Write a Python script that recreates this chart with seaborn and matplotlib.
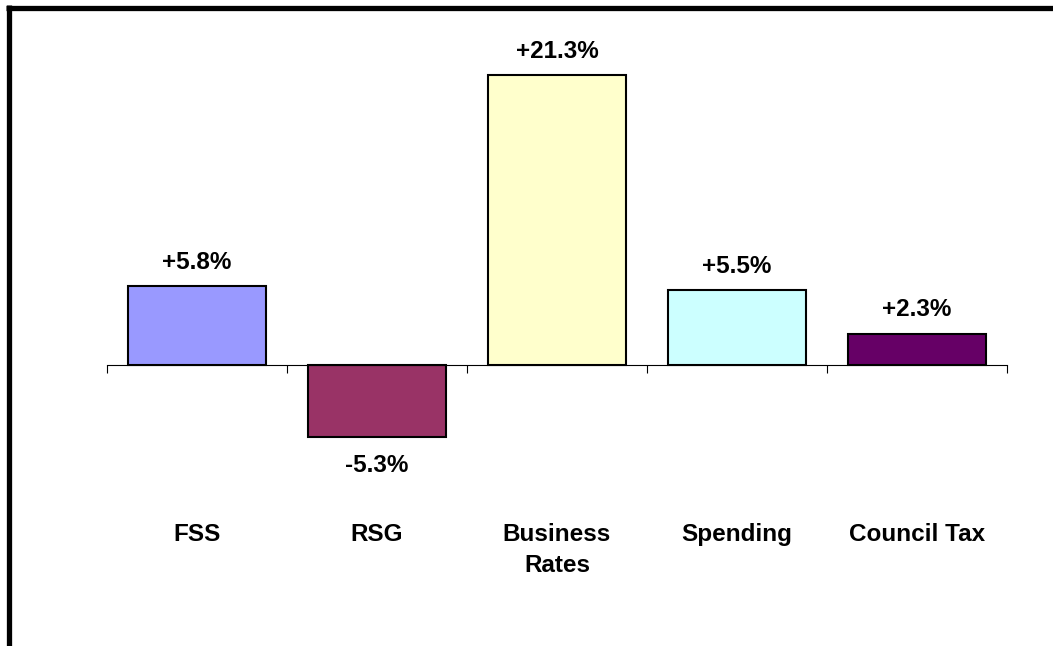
import matplotlib
matplotlib.use("Agg")
import matplotlib.pyplot as plt
from matplotlib.lines import Line2D
import seaborn as sns
import pandas as pd
import numpy as np

categories = ["FSS", "RSG", "Business\nRates", "Spending", "Council Tax"]
changes = [5.8, -5.3, 21.3, 5.5, 2.3]
value_labels = ["+5.8%", "-5.3%", "+21.3%", "+5.5%", "+2.3%"]
colors = ["#9999FF", "#993366", "#FFFFCC", "#CCFFFF", "#660066"]

sns.set_theme(style="white")
plt.rcParams["font.family"] = ["Liberation Sans", "DejaVu Sans"]

W, H = 1053, 646
fig = plt.figure(figsize=(W / 100, H / 100), dpi=100)
fig.patch.set_facecolor("white")

# plot area in pixels: x 107..1007, y 20..620 (from top)
ax = fig.add_axes([107 / W, (H - 620) / H, 900 / W, 600 / H])
ax.set_facecolor("white")

df = pd.DataFrame({"category": categories, "change": changes})
sns.barplot(data=df, x="category", y="change", hue="category",
            palette=colors, order=categories, hue_order=categories,
            width=0.77, edgecolor="black", linewidth=1.5,
            legend=False, ax=ax, saturation=1)

ax.set_xlim(-0.5, 4.5)
ax.set_ylim(-18.75, 25.37)

for s in ["left", "right", "top"]:
    ax.spines[s].set_visible(False)
ax.spines["bottom"].set_position(("data", 0))
ax.spines["bottom"].set_color("black")
ax.spines["bottom"].set_linewidth(0.8)
ax.set_yticks([])
ax.set_xticks(np.arange(-0.5, 5, 1))
ax.set_xticklabels([])
ax.tick_params(axis="x", direction="out", length=6, width=0.8, color="black",
               bottom=True)
ax.set_xlabel("")
ax.set_ylabel("")

FS = 17.5
for i, (v, lab) in enumerate(zip(changes, value_labels)):
    if v >= 0:
        ax.text(i, v + 1.75, lab, ha="center", va="center",
                fontsize=FS, fontweight="bold", color="black")
    else:
        ax.text(i, v - 2.1, lab, ha="center", va="center",
                fontsize=FS, fontweight="bold", color="black")

for i, c in enumerate(categories):
    ax.text(i, -11.6, c, ha="center", va="top", fontsize=FS,
            fontweight="bold", color="black", linespacing=1.45)

# heavy frame along the left and top edges
fig.add_artist(Line2D([8.5 / W, 8.5 / W], [0, (H - 5) / H],
                      transform=fig.transFigure, color="black", linewidth=3.8,
                      solid_capstyle="butt"))
fig.add_artist(Line2D([6 / W, 1], [(H - 7.5) / H, (H - 7.5) / H],
                      transform=fig.transFigure, color="black", linewidth=3.8,
                      solid_capstyle="butt"))

fig.savefig("out.png", dpi=100, facecolor="white")
